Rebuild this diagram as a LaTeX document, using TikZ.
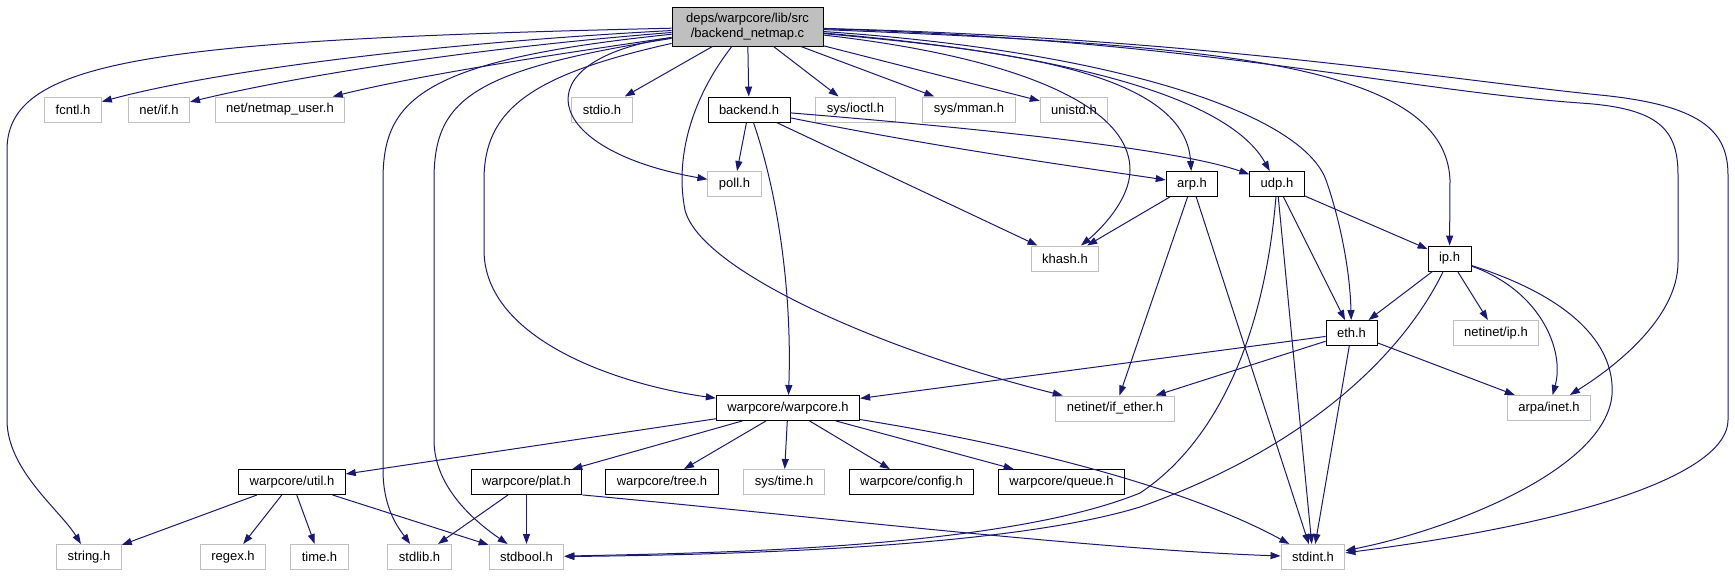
\documentclass[tikz,border=0pt]{standalone}
\usepackage{fontspec}
\setmainfont{Liberation Sans}
\usetikzlibrary{arrows.meta}
\definecolor{edgeblue}{HTML}{191970}
\definecolor{boxgray}{HTML}{BFBFBF}

\begin{document}
\begin{tikzpicture}[
        x=1pt, y=-1pt,
        >={Triangle[length=10pt,width=7pt]},
        hdr/.style={draw=boxgray, line width=1pt, fill=white,
                    minimum height=25pt, inner xsep=11pt, inner ysep=2pt,
                    font=\fontsize{13}{15}\selectfont},
        dochdr/.style={hdr, draw=black, line width=0.9pt},
        mainfile/.style={dochdr, fill=boxgray, align=center,
                         minimum width=151pt, minimum height=39pt},
        inc/.style={->, draw=edgeblue, line width=1pt}
      ]
        \useasboundingbox (0,0) rectangle (1735,576);

        \node[mainfile] (root) at (747.5,26.5) {deps/warpcore/lib/src\\/backend\_netmap.c};

        \node[hdr]    (fcntl)      at (73,109.5)    {fcntl.h};
        \node[hdr]    (netif)      at (159,109.5)   {net/if.h};
        \node[hdr]    (netmapuser) at (280,109.5)   {net/netmap\_user.h};
        \node[hdr]    (stdio)      at (602,109.5)   {stdio.h};
        \node[dochdr] (backend)    at (749,109.5)   {backend.h};
        \node[hdr]    (ioctl)      at (855.5,109.5) {sys/ioctl.h};
        \node[hdr]    (mman)       at (969,109.5)   {sys/mman.h};
        \node[hdr]    (unistd)     at (1074,109.5)  {unistd.h};

        \node[hdr]    (poll) at (734.5,184) {poll.h};
        \node[dochdr] (arp)  at (1192,184)  {arp.h};
        \node[dochdr] (udp)  at (1277,184)  {udp.h};

        \node[hdr]    (khash) at (1065,258.5)   {khash.h};
        \node[dochdr] (ip)    at (1449.5,258.5) {ip.h};

        \node[dochdr] (eth)       at (1351.5,333) {eth.h};
        \node[hdr]    (netinetip) at (1496,333)   {netinet/ip.h};

        \node[dochdr] (warpcore) at (788,408)    {warpcore/warpcore.h};
        \node[hdr]    (ifether)  at (1115,408.5) {netinet/if\_ether.h};
        \node[hdr]    (arpainet) at (1549,408)   {arpa/inet.h};

        \node[dochdr] (util)    at (292,482)    {warpcore/util.h};
        \node[dochdr] (plat)    at (526.5,482)  {warpcore/plat.h};
        \node[dochdr] (tree)    at (662,482)    {warpcore/tree.h};
        \node[hdr]    (systime) at (784,482)    {sys/time.h};
        \node[dochdr] (config)  at (911.5,482)  {warpcore/config.h};
        \node[dochdr] (queue)   at (1061.5,482) {warpcore/queue.h};

        \node[hdr] (string)  at (89,557)    {string.h};
        \node[hdr] (regex)   at (233,557)   {regex.h};
        \node[hdr] (timeh)   at (319.5,557) {time.h};
        \node[hdr] (stdlib)  at (419.5,557) {stdlib.h};
        \node[hdr] (stdbool) at (526.5,557) {stdbool.h};
        \node[hdr] (stdint)  at (1313,557)  {stdint.h};

        \draw[inc] (root) .. controls (150,40) and (7,60) .. (7,150) -- (7,420)
                   .. controls (7,470) and (60,510) .. (string);
        \draw[inc] (root) .. controls (400,45) and (200,75) .. (fcntl);
        \draw[inc] (root) .. controls (450,50) and (280,80) .. (netif);
        \draw[inc] (root) .. controls (550,55) and (420,75) .. (netmapuser);
        \draw[inc] (root) .. controls (420,60) and (383,100) .. (383,180) -- (383,470)
                   .. controls (383,510) and (400,530) .. (stdlib);
        \draw[inc] (root) .. controls (470,70) and (434,100) .. (434,180) -- (434,440)
                   .. controls (434,490) and (480,525) .. (stdbool);
        \draw[inc] (root) .. controls (530,75) and (484,110) .. (484,180) -- (484,250)
                   .. controls (484,340) and (620,385) .. (warpcore);
        \draw[inc] (root) .. controls (520,60) and (540,150) .. (poll);
        \draw[inc] (root) -- (stdio);
        \draw[inc] (root) .. controls (690,100) and (675,160) .. (685,210)
                   .. controls (700,270) and (880,350) .. (ifether);
        \draw[inc] (root) -- (backend);
        \draw[inc] (root) -- (ioctl);
        \draw[inc] (root) -- (mman);
        \draw[inc] (root) -- (unistd);
        \draw[inc] (root) .. controls (1000,55) and (1130,100) .. (1130,170)
                   .. controls (1130,200) and (1100,230) .. (khash);
        \draw[inc] (root) .. controls (1000,50) and (1185,70) .. (arp);
        \draw[inc] (root) .. controls (1080,55) and (1230,100) .. (udp);
        \draw[inc] (root) .. controls (1100,50) and (1300,110) .. (1326,180)
                   .. controls (1340,220) and (1350,270) .. (eth);
        \draw[inc] (root) .. controls (1200,45) and (1445,60) .. (1450,180) -- (ip);
        \draw[inc] (root) .. controls (1200,40) and (1400,90) .. (1580,103)
                   .. controls (1660,108) and (1678,130) .. (1678,175) -- (1678,262)
                   .. controls (1678,320) and (1610,370) .. (arpainet);
        \draw[inc] (root) .. controls (1200,38) and (1450,80) .. (1600,95)
                   .. controls (1700,105) and (1728,130) .. (1728,175) -- (1728,420)
                   .. controls (1728,470) and (1600,520) .. (stdint);

        \draw[inc] (backend) -- (poll);
        \draw[inc] (backend) .. controls (780,200) and (792,300) .. (warpcore);
        \draw[inc] (backend) -- (khash);
        \draw[inc] (backend) .. controls (950,150) and (1100,170) .. (arp);
        \draw[inc] (backend) .. controls (1000,130) and (1180,150) .. (udp);

        \draw[inc] (arp) -- (khash);
        \draw[inc] (arp) -- (ifether);
        \draw[inc] (arp) -- (stdint);

        \draw[inc] (udp) -- (ip);
        \draw[inc] (udp) -- (eth);
        \draw[inc] (udp) -- (stdint);
        \draw[inc] (udp) .. controls (1265,330) and (1220,440) .. (1140,493)
                   .. controls (1000,550) and (700,553) .. (stdbool);

        \draw[inc] (ip) -- (eth);
        \draw[inc] (ip) -- (netinetip);
        \draw[inc] (ip) .. controls (1540,290) and (1565,350) .. (arpainet);
        \draw[inc] (ip) .. controls (1580,300) and (1615,350) .. (1612,395)
                   .. controls (1605,470) and (1450,530) .. (stdint);
        \draw[inc] (ip) .. controls (1400,360) and (1300,450) .. (1140,507)
                   .. controls (1000,550) and (700,555) .. (stdbool);

        \draw[inc] (eth) -- (warpcore);
        \draw[inc] (eth) -- (ifether);
        \draw[inc] (eth) -- (arpainet);
        \draw[inc] (eth) -- (stdint);

        \draw[inc] (warpcore) -- (util);
        \draw[inc] (warpcore) -- (plat);
        \draw[inc] (warpcore) -- (tree);
        \draw[inc] (warpcore) -- (systime);
        \draw[inc] (warpcore) -- (config);
        \draw[inc] (warpcore) -- (queue);
        \draw[inc] (warpcore) .. controls (1050,450) and (1200,495) .. (stdint);

        \draw[inc] (util) -- (string);
        \draw[inc] (util) -- (regex);
        \draw[inc] (util) -- (timeh);
        \draw[inc] (util) -- (stdbool);

        \draw[inc] (plat) -- (stdlib);
        \draw[inc] (plat) -- (stdbool);
        \draw[inc] (plat.south east) .. controls (800,515) and (1100,550) .. (stdint);
      \end{tikzpicture}
\end{document}
